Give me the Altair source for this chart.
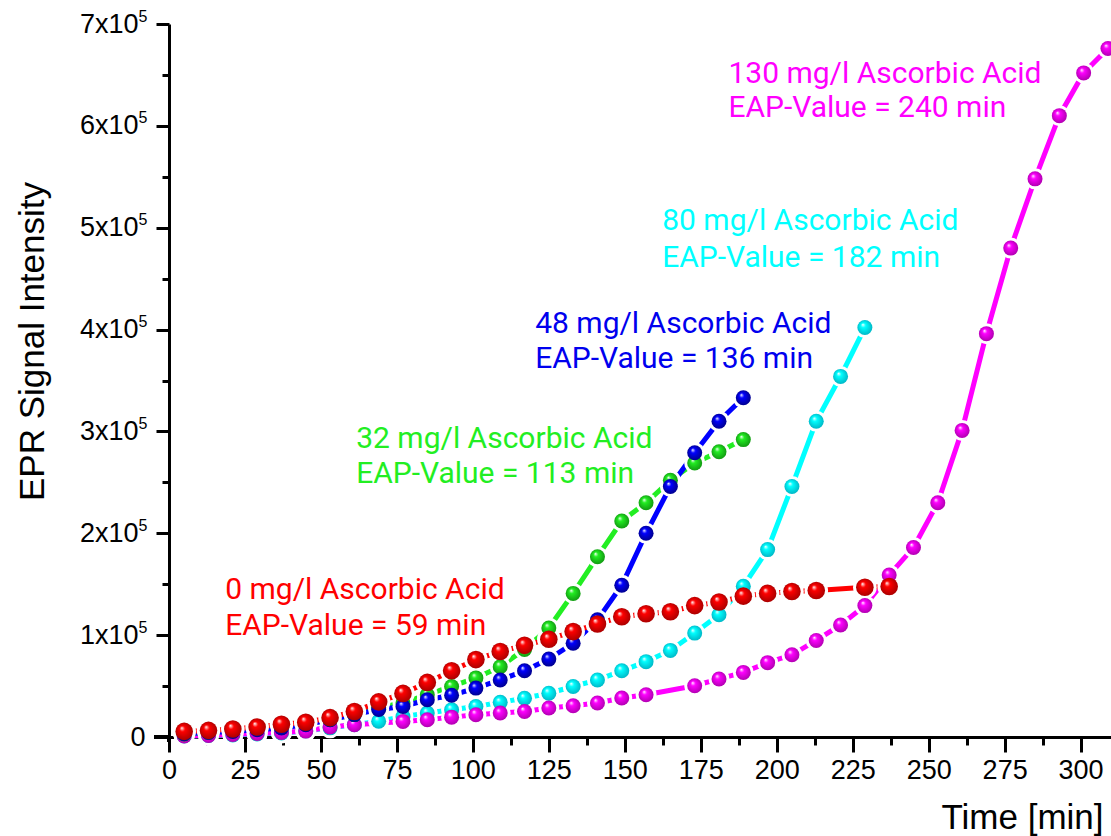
import altair as alt
import pandas as pd

# ---------------- data (time in min, EPR intensity in units of 1e3) ----------------
t_red = [5, 13, 21, 29, 37, 45, 53, 61, 69, 77, 85, 93, 101, 109, 117, 125, 133, 141,
         149, 157, 165, 173, 181, 189, 197, 205, 213, 229, 237]
v_red = [5.5, 6.5, 7.8, 9.8, 12.5, 14.5, 19, 25, 34.5, 42.8, 53.6, 65, 76, 84, 90, 96,
         103.5, 111, 118, 121, 123, 129, 132.5, 138.3, 141, 142.8, 143.8, 147, 147.8]

t_green = [5, 13, 21, 29, 37, 45, 53, 61, 69, 77, 85, 93, 101, 109, 117, 125, 133, 141,
           149, 157, 165, 173, 181, 189]
v_green = [3, 4.5, 6, 8, 10, 13, 17, 22, 29, 33.4, 41.5, 49.6, 58, 69, 86, 107, 141, 177,
           212, 230, 252, 269, 280, 292]

t_blue = [5, 13, 21, 29, 37, 45, 53, 61, 69, 77, 85, 93, 101, 109, 117, 125, 133, 141,
          149, 157, 165, 173, 181, 189]
v_blue = [3.2, 4.5, 5.5, 7.2, 8.8, 12, 17, 22, 27, 30, 36.6, 41, 48, 56, 65, 76.5, 92, 115,
          149, 200, 246, 279, 310, 333]

t_cyan = [5, 13, 21, 29, 37, 45, 53, 61, 69, 77, 85, 93, 101, 109, 117, 125, 133, 141,
          149, 157, 165, 173, 181, 189, 197, 205, 213, 221, 229]
v_cyan = [1, 1.5, 2, 3, 4, 6, 9, 12, 15.5, 20, 23.5, 26.8, 30, 34, 38, 43, 49.6, 56,
          65, 74, 85, 102, 120, 148, 184, 246, 310, 354, 402]

t_mag = [5, 13, 21, 29, 37, 45, 53, 61, 77, 85, 93, 101, 109, 117, 125, 133, 141, 149, 157,
         173, 181, 189, 197, 205, 213, 221, 229, 237, 245, 253, 261, 269, 277, 285, 293, 301, 309]
v_mag = [1, 1.5, 2.5, 3.5, 4.5, 5.8, 9.8, 12, 15.3, 17, 19.5, 21.9, 23.5, 25, 28.5, 30.7,
         33.4, 38.3, 41.5, 50.3, 57, 63.4, 73, 80.7, 94.8, 110, 129, 159, 186, 230, 301,
         396, 480, 548, 610, 652, 676]

# annotations: two text lines per series
ann_text = ["0 mg/l Ascorbic Acid", "EAP-Value = 59 min",
            "32 mg/l Ascorbic Acid", "EAP-Value = 113 min",
            "48 mg/l Ascorbic Acid", "EAP-Value = 136 min",
            "80 mg/l Ascorbic Acid", "EAP-Value = 182 min",
            "130 mg/l Ascorbic Acid", "EAP-Value = 240 min"]
ann_t = [18.5, 18.5, 61.6, 61.6, 120.5, 120.5, 162.3, 162.3, 184.1, 184.1]
ann_v = [135.4, 100.4, 283.5, 249.2, 396.3, 362.0, 497.7, 461.7, 641.6, 608.8]
ann_color = ["#FF0000", "#FF0000", "#22EE22", "#22EE22", "#0000EE", "#0000EE",
             "#00FFFF", "#00FFFF", "#FF00FF", "#FF00FF"]

x_ticks = [0, 25, 50, 75, 100, 125, 150, 175, 200, 225, 250, 275, 300]
x_minor = [12.5, 37.5, 62.5, 87.5, 112.5, 137.5, 162.5, 187.5, 212.5, 237.5, 262.5, 287.5]
y_ticks = [0, 100000, 200000, 300000, 400000, 500000, 600000, 700000]
y_minor = [50000, 150000, 250000, 350000, 450000, 550000, 650000]

# ---------------- chart ----------------
W, H = 942, 713
xs = alt.Scale(domain=[0, 310], nice=False, zero=False)
ys = alt.Scale(domain=[0, 700000], nice=False, zero=False)
FONT = "Liberation Sans"

major_x = alt.Axis(orient="bottom", values=x_ticks, title="Time [min]", grid=False,
                   labelFlush=False, labelOverlap=False, labelFont=FONT,
                   labelFontSize=27, labelColor="black", labelPadding=5, tickSize=15,
                   tickWidth=3, tickColor="black", domainWidth=3, domainColor="black",
                   titleFont=FONT, titleFontSize=35, titleFontWeight="normal",
                   titleColor="black", titleX=934, titleY=91, titleAlign="right",
                   titleBaseline="alphabetic")
major_y = alt.Axis(orient="left", values=y_ticks, title="EPR Signal Intensity", grid=False,
                   labelFlush=False, labelOverlap=False,
                   labelExpr="datum.value == 0 ? '0' : format(datum.value / 100000, 'd') + 'x10'",
                   labelFont=FONT, labelFontSize=27, labelColor="black",
                   labelPadding={"condition": {"test": "datum.value == 0", "value": 11},
                                 "value": 18},
                   tickSize=13, tickWidth=3, tickColor="black",
                   domainWidth=3, domainColor="black",
                   titleFont=FONT, titleFontSize=35, titleFontWeight="normal",
                   titleColor="black", titleX=-126, titleY=317, titleAlign="center",
                   titleAngle=270, titleBaseline="alphabetic")
sup_y = alt.Axis(orient="left", values=y_ticks, title=None, grid=False, domain=False,
                 ticks=False, labelFlush=False, labelOverlap=False,
                 labelExpr="datum.value == 0 ? '' : '5'", labelFont=FONT,
                 labelFontSize=16, labelColor="black", labelPadding=22,
                 labelOffset=-8, labelBaseline="middle")
minor_x = alt.Axis(orient="bottom", values=x_minor, title=None, labels=False, domain=False,
                   grid=False, tickSize=8, tickWidth=3, tickColor="black")
minor_y = alt.Axis(orient="left", values=y_minor, title=None, labels=False, domain=False,
                   grid=False, tickSize=7, tickWidth=3, tickColor="black")


def frame(ts, vs):
    return pd.DataFrame({"t": ts, "v": [v * 1000 for v in vs]})


def grad(col, dark):
    return {"gradient": "radial", "x1": 0.36, "y1": 0.3, "r1": 0.0,
            "x2": 0.5, "y2": 0.5, "r2": 0.56,
            "stops": [{"offset": 0.0, "color": "#ffffff"},
                      {"offset": 0.28, "color": col},
                      {"offset": 1.0, "color": dark}]}


series = [
    (t_cyan, v_cyan, "#00FFFF", "#00AFC0", 225),
    (t_mag, v_mag, "#FF00FF", "#A800A8", 225),
    (t_green, v_green, "#22EE22", "#109010", 225),
    (t_blue, v_blue, "#0000FF", "#000080", 225),
    (t_red, v_red, "#FF0000", "#A00000", 310),
]

lines, halos, dots = [], [], []
for ts, vs, col, dark, size in series:
    base = alt.Chart(frame(ts, vs))
    enc = dict(x=alt.X("t:Q", scale=xs, axis=None), y=alt.Y("v:Q", scale=ys, axis=None))
    lines.append(base.mark_line(color=col, strokeWidth=5).encode(**enc))
    d = size ** 0.5
    halos.append(base.mark_circle(color="white", opacity=1, size=(d + 6) ** 2).encode(**enc))
    dots.append(base.mark_circle(fill=grad(col, dark), opacity=1, size=size).encode(**enc))

ref = frame(t_red, v_red)
axes_major = alt.Chart(ref).mark_point(opacity=0).encode(
    x=alt.X("t:Q", scale=xs, axis=major_x), y=alt.Y("v:Q", scale=ys, axis=major_y))
axes_minor = alt.Chart(ref).mark_point(opacity=0).encode(
    x=alt.X("t:Q", scale=xs, axis=minor_x), y=alt.Y("v:Q", scale=ys, axis=minor_y))
axes_sup = alt.Chart(ref).mark_point(opacity=0).encode(
    x=alt.X("t:Q", scale=xs, axis=None), y=alt.Y("v:Q", scale=ys, axis=sup_y))

# small extensions of the axis lines past the origin
ext_x = alt.Chart(ref).mark_rule(color="black", strokeWidth=3).encode(
    x=alt.value(-15), x2=alt.value(0), y=alt.value(H))
ext_y = alt.Chart(ref).mark_rule(color="black", strokeWidth=3).encode(
    x=alt.value(0), y=alt.value(H), y2=alt.value(H + 5))

ann_df = pd.DataFrame({"t": ann_t, "v": [v * 1000 for v in ann_v],
                       "text": ann_text, "color": ann_color})
ann = alt.Chart(ann_df).mark_text(align="left", baseline="alphabetic", font="Roboto",
                                  fontSize=30).encode(
    x=alt.X("t:Q", scale=xs, axis=None), y=alt.Y("v:Q", scale=ys, axis=None),
    text="text:N", color=alt.Color("color:N", scale=None))

chart = alt.layer(axes_minor, axes_sup, axes_major, ext_x, ext_y,
                  *lines, *halos, *dots, ann).resolve_axis(
    x="independent", y="independent"
).properties(
    width=W, height=H,
    padding={"left": 169, "top": 24, "right": 0, "bottom": 99},
    autosize=alt.AutoSizeParams(type="none"),
).configure_view(stroke=None)

chart.save("out.html", embed_options={"renderer": "svg", "actions": False})
